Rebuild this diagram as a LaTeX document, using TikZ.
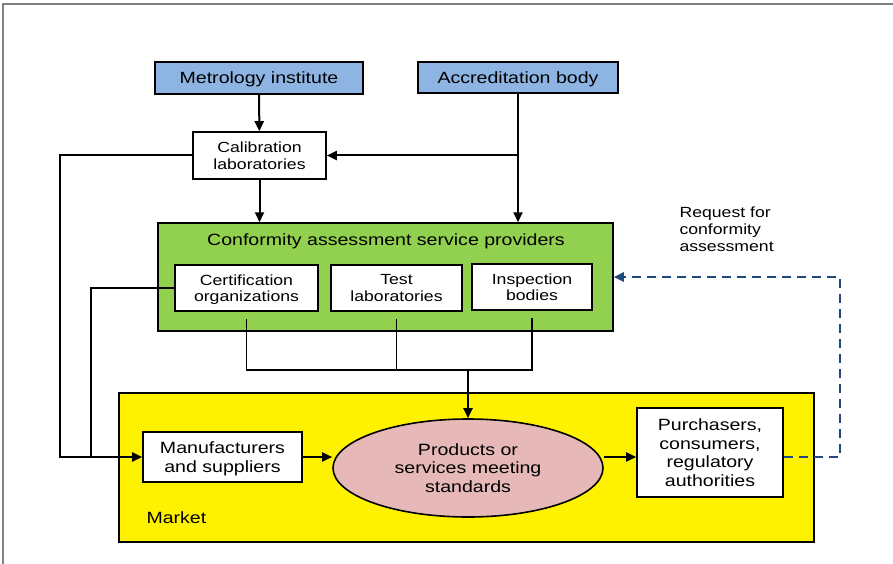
\documentclass[tikz,border=0pt]{standalone}
\usepackage{fontspec}
\setmainfont[FakeStretch=1.2]{Liberation Sans}
\usetikzlibrary{arrows.meta,shapes.geometric}

\definecolor{blueBox}{RGB}{141,180,226}
\definecolor{greenBox}{RGB}{146,208,80}
\definecolor{pinkOval}{RGB}{230,184,183}
\definecolor{dashBlue}{RGB}{31,73,125}

\tikzset{
  box/.style={draw, line width=1.6pt, fill=white, align=center, inner sep=0pt,
    text depth=-1.5pt, font=\fontsize{14.7}{16.5}\selectfont},
  bigbox/.style={box, font=\fontsize{16.3}{18.5}\selectfont},
  arr/.style={line width=2pt, -{Triangle[length=10pt,width=9pt]}},
  wire/.style={line width=1.6pt},
  reqline/.style={dashBlue, line width=2.4pt, dash pattern=on 9pt off 6pt,
    -{Triangle[length=10pt,width=9pt]}},
}

\begin{document}
\begin{tikzpicture}[x=1pt, y=-1pt]
\useasboundingbox (0,0) rectangle (893,564);
% frame
\draw[gray, line width=2pt] (3,564) -- (3,4) -- (893,4);

% big areas
\node[draw, line width=1.5pt, fill=yellow, minimum width=695, minimum height=149] (market) at (466.5,467.5) {};
\node[anchor=west, font=\fontsize{16.3}{18.5}\selectfont] (marketlbl) at (143,518) {Market};
\node[draw, line width=1.5pt, fill=greenBox, minimum width=455, minimum height=108] (cas) at (385.5,277) {};
\node[font=\fontsize{16.3}{18.5}\selectfont] (castitle) at (386,241) {Conformity assessment service providers};

% boxes
\node[bigbox, fill=blueBox, minimum width=208, minimum height=32] (metro) at (259,78) {Metrology institute};
\node[bigbox, fill=blueBox, minimum width=200, minimum height=31] (accr) at (518,77.5) {Accreditation body};
\node[box, minimum width=133, minimum height=47] (calib) at (259.5,155.5) {Calibration\\laboratories};
\node[box, minimum width=143, minimum height=46] (cert) at (246.5,288) {Certification\\organizations};
\node[box, minimum width=131, minimum height=46] (test) at (396.5,288) {Test\\laboratories};
\node[box, minimum width=120, minimum height=46] (insp) at (532,287) {Inspection\\bodies};
\node[bigbox, minimum width=159, minimum height=50] (mfr) at (222.5,457) {Manufacturers\\and suppliers};
\node[bigbox, ellipse, text depth=-1pt, fill=pinkOval, minimum width=270, minimum height=98] (prod) at (468,468) {Products or\\services meeting\\standards};
\node[bigbox, text depth=-5pt, minimum width=146, minimum height=89] (purch) at (710,452.5) {Purchasers,\\consumers,\\regulatory\\authorities};
\node[anchor=west, align=left, font=\fontsize{14.7}{17}\selectfont] (req) at (676,229) {Request for\\conformity\\assessment};

\coordinate (loopA) at (60,0);
\coordinate (loopB) at (91,0);
\coordinate (bus) at (468,370);
\coordinate (dashturn) at (840,277);

% connectors
\draw[arr] (metro) -- (calib);
\draw[arr] (accr) -- (accr |- cas.north);
\draw[arr] (accr |- calib.east) -- (calib.east);
\draw[arr] (calib) -- (calib |- cas.north);
\draw[arr] (calib.west) -| (loopA |- mfr.west) -- (mfr.west);
\draw[wire] (cert.west) -| (loopB |- mfr.west);
\draw[wire] ([yshift=-7pt]cert.south) |- (bus) -| ([yshift=-7pt]insp.south);
\draw[wire] ([yshift=-7pt]test.south) -- (test.south |- bus);
\draw[arr] (bus) -- (prod.north);
\draw[arr] (mfr.east) -- (mfr.east -| prod.west);
\draw[arr] (prod.east |- mfr.east) -- (purch.west |- mfr.east);
\draw[reqline] (purch.east |- mfr.east) -| (dashturn) -- (cas.east);
\end{tikzpicture}
\end{document}
